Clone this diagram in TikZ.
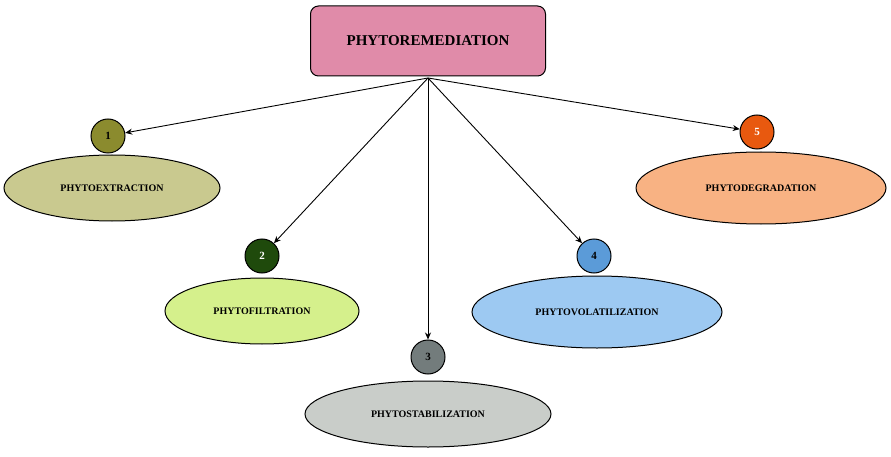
\documentclass[tikz,border=0pt]{standalone}
\usepackage{fontspec}
\setmainfont{Liberation Serif}
\usetikzlibrary{shapes.geometric,arrows.meta}
\begin{document}
\begin{tikzpicture}[x=1pt,y=-1pt,
  ell/.style={ellipse,draw=black,line width=1pt,minimum width=#1,inner sep=0pt,font=\bfseries\fontsize{10}{12}\selectfont},
  num/.style={circle,draw=black,line width=1pt,minimum size=34pt,inner sep=0pt,font=\bfseries\fontsize{11}{12}\selectfont},
  arr/.style={-{Stealth[length=7pt,width=6pt]},line width=0.9pt}]
\useasboundingbox (0,0) rectangle (891,457);
\definecolor{c1}{HTML}{8B8B2E}\definecolor{e1}{HTML}{C9C98F}
\definecolor{c2}{HTML}{1F4A0C}\definecolor{e2}{HTML}{D5F08C}
\definecolor{c3}{HTML}{737C7C}\definecolor{e3}{HTML}{C9CDC9}
\definecolor{c4}{HTML}{5B9BD8}\definecolor{e4}{HTML}{9DC9F2}
\definecolor{c5}{HTML}{E8590F}\definecolor{e5}{HTML}{F8B283}
\definecolor{top}{HTML}{E08BA9}
\node[draw=black,line width=1pt,fill=top,rounded corners=8pt,minimum width=235pt,minimum height=70pt,font=\bfseries\fontsize{15}{18}\selectfont] (root) at (428,41) {PHYTOREMEDIATION};
\coordinate (apex) at (428,78);
\node[ell=216pt,minimum height=66pt,fill=e1] (E1) at (112,188) {PHYTOEXTRACTION};
\node[ell=194pt,minimum height=66pt,fill=e2] (E2) at (262,311) {PHYTOFILTRATION};
\node[ell=246pt,minimum height=66pt,fill=e3] (E3) at (428,414) {PHYTOSTABILIZATION};
\node[ell=250pt,minimum height=72pt,fill=e4] (E4) at (597,312) {PHYTOVOLATILIZATION};
\node[ell=250pt,minimum height=72pt,fill=e5] (E5) at (761,188) {PHYTODEGRADATION};
\node[num,fill=c1] (N1) at (108,136) {1};
\node[num,fill=c2,text=white] (N2) at (262,256) {2};
\node[num,fill=c3] (N3) at (428,357) {3};
\node[num,fill=c4] (N4) at (594,256) {4};
\node[num,fill=c5,text=white] (N5) at (757,132) {5};
\foreach \n in {N1,N2,N3,N4,N5} \draw[arr] (apex) -- (\n);
\end{tikzpicture}
\end{document}
